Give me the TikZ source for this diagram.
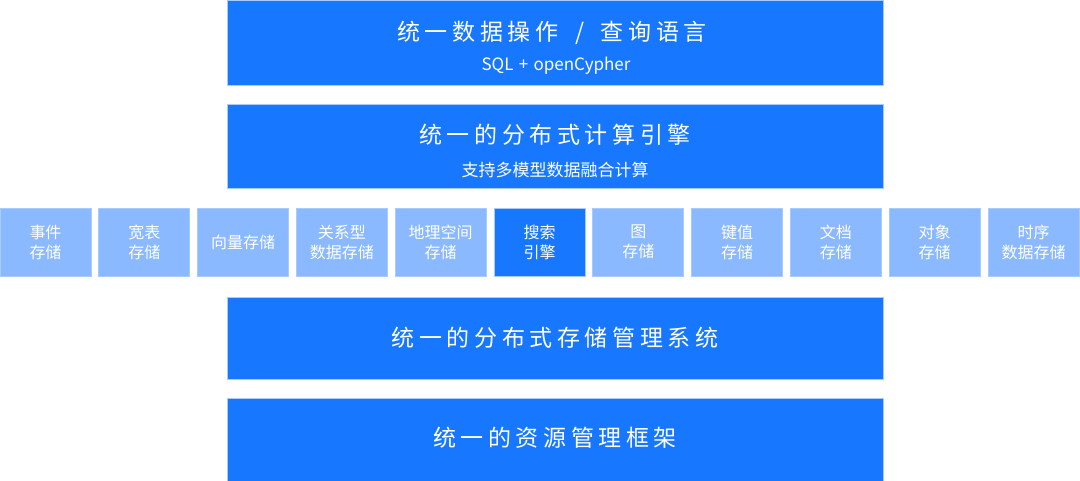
\documentclass[tikz,border=0pt]{standalone}
\usepackage{fontspec}
\setmainfont{Noto Sans CJK SC}
\newfontfamily\titlefont[LetterSpace=20]{Noto Sans CJK SC}
\usepackage{tikz}
\usetikzlibrary{positioning}
\definecolor{darkblue}{HTML}{1877FF}
\definecolor{lightblue}{HTML}{8AB9FF}
\definecolor{edgeblue}{HTML}{A8CBFF}
\tikzstyle{layer} = [
    draw=edgeblue,
    line width=0.8pt,
    fill=darkblue,
    minimum width=656pt,
    inner sep=0pt
]
\tikzstyle{store} = [
    draw=edgeblue,
    line width=0.8pt,
    fill=lightblue,
    minimum width=91pt,
    minimum height=68pt,
    inner sep=0pt,
    text=white,
    align=center,
    font=\fontsize{16}{20}\selectfont
]
\tikzstyle{title} = [
    text=white,
    inner sep=0pt,
    font=\titlefont\fontsize{23}{26}\selectfont
]
\tikzstyle{subtitle} = [
    text=white,
    inner sep=0pt,
    font=\fontsize{17}{20}\selectfont
]

\begin{document}
\begin{tikzpicture}[x=1pt,y=-1pt]

\useasboundingbox[fill=white] (0,0) rectangle (1080,481);

% top layer
\node[layer, minimum height=85pt] (query) at (555,42.5) {};

\node[title] (querytitle) at (552,33) {统一数据操作\hspace{7pt} / \hspace{7pt}查询语言};

\node[subtitle] (querysub) at (556,66) {SQL\hspace{1.5pt} + \hspace{1.5pt}openCypher};

% compute layer
\node[layer, minimum height=84pt] (compute) at (555,146) {};

\node[title] (computetitle) at (555,135) {统一的分布式计算引擎};

\node[subtitle] (computesub) at (555,170) {支持多模型数据融合计算};

% storage engines
\node[store] (event) at (45.5,242) {事件\\存储};

\node[store] (wide) at (144.3,242) {宽表\\存储};

\node[store] (vector) at (243.1,242) {向量存储};

\node[store] (relation) at (341.9,242) {关系型\\数据存储};

\node[store] (geo) at (440.7,242) {地理空间\\存储};

\node[store, fill=darkblue] (search) at (539.5,242) {搜索\\引擎};

\node[store] (graph) at (638.3,242) {图\\存储};

\node[store] (keyvalue) at (737.1,242) {键值\\存储};

\node[store] (document) at (835.9,242) {文档\\存储};

\node[store] (object) at (934.7,242) {对象\\存储};

\node[store] (timeseries) at (1033.5,242) {时序\\数据存储};

% storage layer
\node[layer, minimum height=82pt] (storage) at (555,338) {};

\node[title] (storagetitle) at (555,338) {统一的分布式存储管理系统};

% resource layer
\node[layer, minimum height=83pt] (resource) at (555,439.5) {};

\node[title] (resourcetitle) at (555,438) {统一的资源管理框架};

\end{tikzpicture}
\end{document}
